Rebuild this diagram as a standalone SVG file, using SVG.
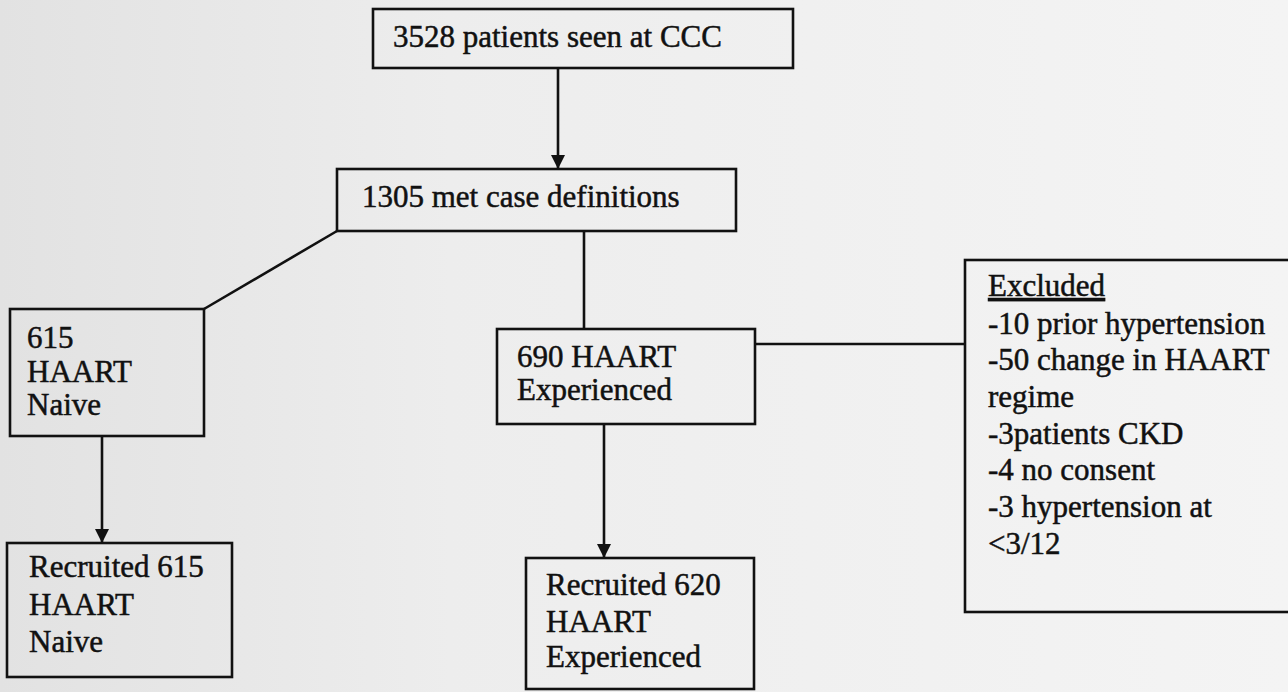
<svg xmlns="http://www.w3.org/2000/svg" width="1288" height="692" viewBox="0 0 1288 692">
  <defs>
    <linearGradient id="paper" x1="0" y1="0" x2="1" y2="0">
      <stop offset="0" stop-color="#e2e2e2"/>
      <stop offset="0.35" stop-color="#ededed"/>
      <stop offset="1" stop-color="#f4f4f4"/>
    </linearGradient>
    <marker id="arrow" viewBox="0 0 14 14" refX="14" refY="7" markerWidth="14" markerHeight="14" markerUnits="userSpaceOnUse" orient="auto">
      <path d="M0,0 L14,7 L0,14 Z" fill="#111111"/>
    </marker>
    <style>
      .box { fill: none; stroke: #111111; stroke-width: 2.6; }
      .edge { fill: none; stroke: #111111; stroke-width: 2.6; }
      .lbl { font-family: "Liberation Serif", "Times New Roman", serif; font-size: 31px; fill: #111111; stroke: #111111; stroke-width: 0.5; }
    </style>
  </defs>
  <rect x="0" y="0" width="1288" height="692" fill="url(#paper)"/>

  <g id="connectors">
    <line class="edge" x1="558" y1="68" x2="558" y2="169" marker-end="url(#arrow)"/>
    <line class="edge" x1="337" y1="231" x2="204" y2="309"/>
    <line class="edge" x1="584" y1="231" x2="584" y2="329"/>
    <line class="edge" x1="102" y1="436" x2="102" y2="543" marker-end="url(#arrow)"/>
    <line class="edge" x1="604" y1="424" x2="604" y2="558" marker-end="url(#arrow)"/>
    <line class="edge" x1="755" y1="344" x2="965" y2="344"/>
  </g>

  <g id="n-seen">
    <rect class="box" x="373" y="9" width="420" height="59"/>
    <text class="lbl" x="393" y="47">3528 patients seen at CCC</text>
  </g>

  <g id="n-met">
    <rect class="box" x="337" y="169" width="399" height="62"/>
    <text class="lbl" x="362" y="207">1305 met case definitions</text>
  </g>

  <g id="n-naive">
    <rect class="box" x="10" y="309" width="194" height="127"/>
    <text class="lbl" x="27" y="348">615</text>
    <text class="lbl" x="27" y="382">HAART</text>
    <text class="lbl" x="27" y="415">Naive</text>
  </g>

  <g id="n-experienced">
    <rect class="box" x="497" y="329" width="258" height="95"/>
    <text class="lbl" x="517" y="367">690 HAART</text>
    <text class="lbl" x="517" y="400">Experienced</text>
  </g>

  <g id="n-excluded">
    <rect class="box" x="965" y="260" width="330" height="352"/>
    <text class="lbl" x="988" y="296" text-decoration="underline">Excluded</text>
    <text class="lbl" x="988" y="334">-10 prior hypertension</text>
    <text class="lbl" x="988" y="370">-50 change in HAART</text>
    <text class="lbl" x="988" y="407">regime</text>
    <text class="lbl" x="988" y="444">-3patients CKD</text>
    <text class="lbl" x="988" y="480">-4 no consent</text>
    <text class="lbl" x="988" y="517">-3 hypertension at</text>
    <text class="lbl" x="988" y="554">&lt;3/12</text>
  </g>

  <g id="n-rec-naive">
    <rect class="box" x="7" y="543" width="225" height="134"/>
    <text class="lbl" x="29" y="577">Recruited 615</text>
    <text class="lbl" x="29" y="615">HAART</text>
    <text class="lbl" x="29" y="652">Naive</text>
  </g>

  <g id="n-rec-exp">
    <rect class="box" x="526" y="558" width="228" height="131"/>
    <text class="lbl" x="546" y="595">Recruited 620</text>
    <text class="lbl" x="546" y="632">HAART</text>
    <text class="lbl" x="546" y="667">Experienced</text>
  </g>
</svg>
